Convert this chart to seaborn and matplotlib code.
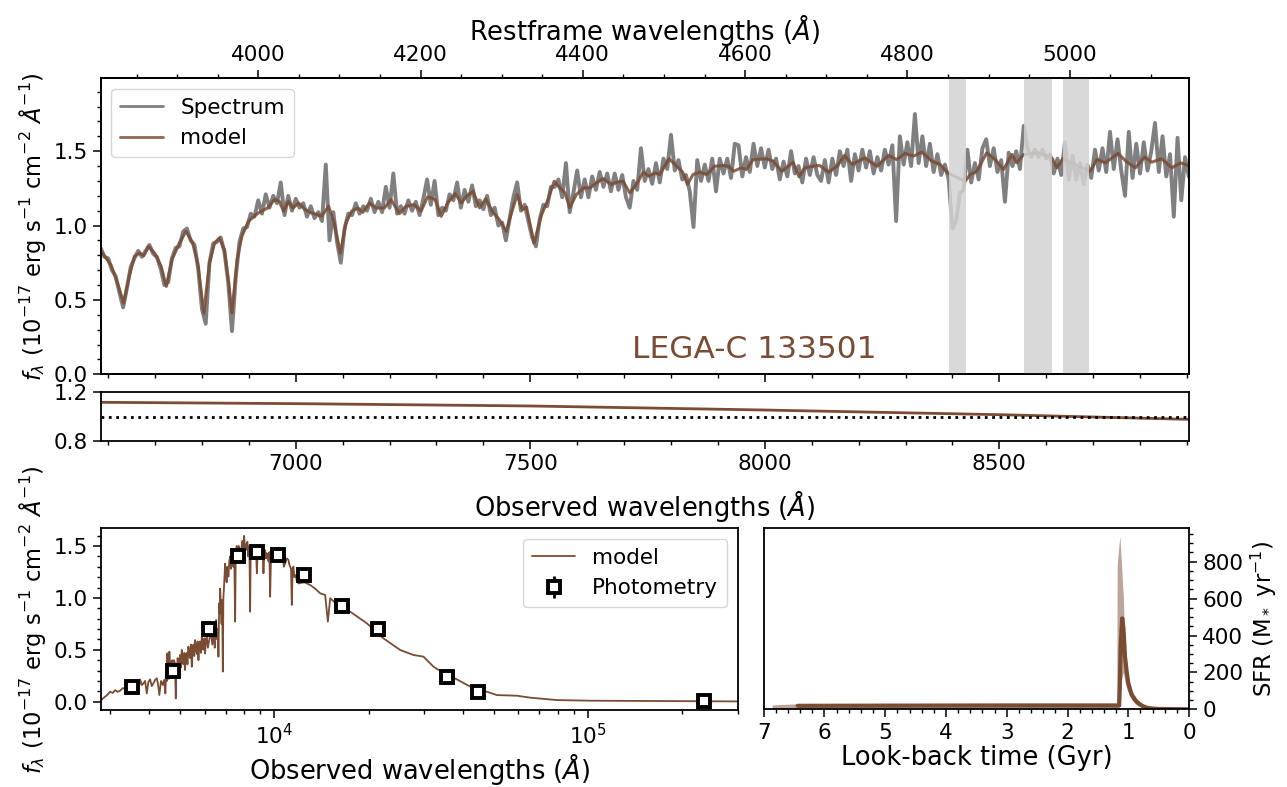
import numpy as np
import matplotlib
matplotlib.use("Agg")
import matplotlib.pyplot as plt
from matplotlib.ticker import MultipleLocator
import seaborn as sns

# ----------------------------------------------------------------------
# Data
# ----------------------------------------------------------------------
REDSHIFT = 0.730
OBJ_NAME = "LEGA-C 133501"

# observed spectrum, sampled on an 8 A pixel grid starting at 6584 A
SPEC_START, SPEC_STEP = 6584, 8
spec_flux = [
    0.85, 0.79, 0.78, 0.70, 0.66, 0.55, 0.45, 0.58, 0.72, 0.78,
    0.83, 0.79, 0.83, 0.87, 0.81, 0.79, 0.71, 0.60, 0.62, 0.78,
    0.85, 0.86, 0.96, 0.98, 0.90, 0.87, 0.71, 0.44, 0.34, 0.75,
    0.88, 0.89, 0.92, 0.82, 0.62, 0.29, 0.65, 0.89, 0.98, 0.99,
    1.08, 1.06, 1.17, 1.08, 1.21, 1.12, 1.20, 1.15, 1.29, 1.07,
    1.20, 1.10, 1.18, 1.12, 1.15, 1.06, 1.13, 1.05, 1.09, 1.03,
    1.41, 0.90, 1.09, 0.89, 0.75, 0.98, 1.08, 1.07, 1.15, 1.08,
    1.13, 1.10, 1.18, 1.09, 1.16, 1.09, 1.26, 1.12, 1.35, 1.08,
    1.13, 1.08, 1.17, 1.10, 1.16, 1.07, 1.18, 1.31, 1.14, 1.30,
    1.07, 1.12, 1.10, 1.21, 1.17, 1.29, 1.12, 1.24, 1.16, 1.27,
    1.13, 1.17, 1.11, 1.20, 1.07, 1.12, 1.00, 1.02, 0.90, 1.05,
    1.19, 1.29, 1.10, 1.14, 1.03, 0.92, 0.86, 1.04, 1.14, 1.13,
    1.26, 1.26, 1.31, 1.19, 1.42, 1.09, 1.22, 1.37, 1.19, 1.31,
    1.19, 1.33, 1.24, 1.36, 1.26, 1.35, 1.23, 1.35, 1.24, 1.34,
    1.19, 1.12, 1.30, 1.24, 1.52, 1.30, 1.38, 1.28, 1.42, 1.29,
    1.45, 1.38, 1.61, 1.37, 1.44, 1.31, 1.34, 1.23, 0.99, 1.44,
    1.30, 1.41, 1.30, 1.45, 1.23, 1.45, 1.35, 1.45, 1.32, 1.55,
    1.54, 1.33, 1.46, 1.36, 1.55, 1.40, 1.52, 1.39, 1.51, 1.38,
    1.45, 1.31, 1.43, 1.33, 1.50, 1.35, 1.40, 1.29, 1.45, 1.34,
    1.46, 1.34, 1.30, 1.44, 1.29, 1.45, 1.34, 1.50, 1.40, 1.51,
    1.30, 1.48, 1.37, 1.51, 1.39, 1.50, 1.35, 1.46, 1.37, 1.51,
    1.41, 1.54, 1.03, 1.60, 1.41, 1.56, 1.40, 1.75, 1.42, 1.60,
    1.40, 1.55, 1.36, 1.48, 1.34, 1.41, 1.31, 0.98, 1.03, 1.22,
    1.24, 1.51, 1.29, 1.42, 1.31, 1.52, 1.58, 1.40, 1.52, 1.36,
    1.44, 1.16, 1.49, 1.40, 1.50, 1.38, 1.67, 1.52, 1.46, 1.51,
    1.46, 1.51, 1.45, 1.48, 1.35, 1.45, 1.34, 1.56, 1.31, 1.47,
    1.31, 1.42, 1.28, 1.41, 1.32, 1.51, 1.37, 1.52, 1.36, 1.63,
    1.38, 1.58, 1.37, 1.20, 1.63, 1.32, 1.55, 1.35, 1.56, 1.37,
    1.50, 1.69, 1.36, 1.60, 1.33, 1.48, 1.06, 1.59, 1.17, 1.46,
    1.33,
]

# best-fit model of the spectrum
model_wl = [
    6585, 6606, 6620, 6633, 6645, 6656, 6667, 6676, 6686, 6699, 6713, 6724,
    6736, 6752, 6766, 6780, 6791, 6804, 6816, 6827, 6837, 6848, 6857, 6864,
    6875, 6885, 6899, 6915, 6926, 6940, 6955, 6965, 6974, 6984, 6994, 7006,
    7018, 7033, 7047, 7055, 7070, 7082, 7095, 7107, 7119, 7132, 7143, 7157,
    7171, 7189, 7203, 7221, 7235, 7252, 7267, 7281, 7297, 7310, 7324, 7340,
    7353, 7364, 7378, 7392, 7405, 7421, 7434, 7449, 7460, 7472, 7483, 7492,
    7508, 7524, 7538, 7551, 7563, 7574, 7584, 7598, 7614, 7627, 7641, 7655,
    7673, 7684, 7698, 7712, 7726, 7741, 7753, 7766, 7776, 7796, 7812, 7825,
    7835, 7847, 7861, 7876, 7893, 7911, 7922, 7933, 7950, 7961, 7975, 8004,
    8018, 8036, 8046, 8060, 8073, 8085, 8103, 8117, 8136, 8154, 8170, 8186,
    8213, 8239, 8264, 8281, 8299, 8317, 8335, 8356, 8374, 8390, 8427, 8438,
    8452, 8473, 8491, 8509, 8527, 8537, 8552, 8584, 8612, 8623, 8635, 8662,
    8694, 8708, 8726, 8753, 8770, 8790, 8810, 8825, 8846, 8868, 8886, 8903,
]
model_flux = [
    0.826, 0.736, 0.613, 0.478, 0.658, 0.793, 0.815, 0.797, 0.860, 0.815, 0.726, 0.591,
    0.771, 0.883, 0.961, 0.883, 0.748, 0.411, 0.748, 0.883, 0.916, 0.838, 0.613, 0.411,
    0.771, 0.927, 1.028, 1.073, 1.096, 1.118, 1.175, 1.163, 1.096, 1.163, 1.118, 1.152,
    1.112, 1.085, 1.073, 1.062, 1.130, 1.017, 0.815, 1.017, 1.096, 1.118, 1.089, 1.152,
    1.118, 1.118, 1.175, 1.080, 1.130, 1.141, 1.096, 1.193, 1.175, 1.062, 1.152, 1.215,
    1.152, 1.197, 1.231, 1.119, 1.180, 1.085, 1.040, 0.961, 1.085, 1.208, 1.107, 1.125,
    0.882, 1.073, 1.175, 1.298, 1.253, 1.220, 1.119, 1.208, 1.253, 1.253, 1.287, 1.316,
    1.276, 1.291, 1.298, 1.220, 1.276, 1.359, 1.332, 1.354, 1.343, 1.449, 1.399, 1.359,
    1.276, 1.343, 1.359, 1.343, 1.399, 1.404, 1.399, 1.365, 1.388, 1.377, 1.444, 1.449,
    1.433, 1.365, 1.388, 1.426, 1.328, 1.388, 1.399, 1.404, 1.359, 1.399, 1.471, 1.411,
    1.455, 1.399, 1.471, 1.444, 1.485, 1.467, 1.494, 1.433, 1.411, 1.354, 1.298, 1.343,
    1.365, 1.489, 1.444, 1.377, 1.478, 1.422, 1.478, 1.489, 1.455, 1.388, 1.449, 1.411,
    1.365, 1.444, 1.422, 1.485, 1.433, 1.388, 1.460, 1.426, 1.449, 1.388, 1.422, 1.404,
]

# masked emission-line windows (observed A): H-beta, [OIII]4959, [OIII]5007
mask_lo = [8393, 8553, 8635]
mask_hi = [8428, 8613, 8692]

# multiplicative calibration polynomial (ratio panel)
ratio_wl = [6585, 7000, 7500, 8000, 8500, 8903]
ratio_val = [1.116, 1.105, 1.086, 1.053, 1.015, 0.977]

# broad-band SED model
sed_wl = [
    2809, 2892, 2950, 3001, 3060, 3113, 3170, 3229, 3290, 3350, 3410, 3475,
    3560, 3650, 3700, 3740, 3790, 3832, 3880, 3928, 3975, 4025, 4075, 4123,
    4175, 4227, 4265, 4308, 4360, 4417, 4460, 4502, 4520, 4540, 4555, 4568,
    4585, 4600, 4618, 4636, 4660, 4683, 4705, 4730, 4752, 4775, 4798, 4820,
    4840, 4859, 4880, 4900, 4925, 4953, 4980, 5010, 5045, 5078, 5110, 5140,
    5170, 5203, 5230, 5260, 5295, 5330, 5365, 5400, 5430, 5465, 5500, 5530,
    5565, 5601, 5635, 5670, 5705, 5738, 5775, 5810, 5845, 5882, 5915, 5950,
    5990, 6026, 6060, 6100, 6150, 6200, 6250, 6300, 6350, 6406, 6440, 6470,
    6500, 6534, 6560, 6590, 6620, 6645, 6670, 6690, 6710, 6729, 6760, 6800,
    6830, 6862, 6890, 6920, 6950, 6980, 7020, 7060, 7100, 7150, 7195, 7240,
    7290, 7332, 7375, 7420, 7465, 7511, 7540, 7570, 7600, 7638, 7700, 7760,
    7820, 7888, 7930, 7960, 7990, 8024, 8070, 8120, 8170, 8220, 8260, 8300,
    8340, 8384, 8420, 8460, 8505, 8551, 8615, 8680, 8745, 8810, 8865, 8920,
    8975, 9027, 9085, 9140, 9190, 9246, 9300, 9360, 9420, 9478, 9540, 9600,
    9655, 9710, 9770, 9830, 9890, 9949, 10070, 10200, 10320, 10450, 10550, 10650,
    10740, 10840, 10970, 11106, 11180, 11250, 11320, 11386, 11450, 11522, 11600, 11700,
    11830, 11955, 12500, 13026, 13500, 14020, 14540, 14830, 15085, 16000, 17470, 19750,
    22300, 25220, 27800, 29920, 32200, 35530, 38230, 43190, 47640, 51280, 59380, 65490,
    79650, 101700, 300800,
]
sed_flux = [
    0.016, 0.048, 0.070, 0.096, 0.085, 0.112, 0.095, 0.106, 0.130, 0.128, 0.090, 0.096,
    0.150, 0.145, 0.110, 0.215, 0.160, 0.177, 0.200, 0.080, 0.190, 0.215, 0.150, 0.177,
    0.210, 0.225, 0.170, 0.064, 0.200, 0.161, 0.210, 0.080, 0.250, 0.300, 0.200, 0.466,
    0.300, 0.330, 0.220, 0.482, 0.300, 0.273, 0.380, 0.400, 0.280, 0.337, 0.400, 0.380,
    0.250, 0.032, 0.330, 0.300, 0.420, 0.369, 0.280, 0.450, 0.330, 0.498, 0.400, 0.360,
    0.470, 0.305, 0.450, 0.470, 0.360, 0.530, 0.440, 0.420, 0.550, 0.337, 0.500, 0.550,
    0.440, 0.594, 0.500, 0.460, 0.580, 0.401, 0.550, 0.580, 0.470, 0.626, 0.550, 0.500,
    0.610, 0.466, 0.600, 0.620, 0.520, 0.580, 0.640, 0.660, 0.550, 0.626, 0.580, 0.520,
    0.700, 0.787, 0.620, 0.600, 0.700, 0.434, 0.800, 0.950, 0.850, 1.090, 0.950, 0.750,
    0.980, 0.290, 1.000, 1.100, 1.220, 1.330, 1.200, 1.150, 1.300, 1.205, 1.350, 1.400,
    1.280, 1.365, 1.420, 1.300, 1.400, 0.771, 1.350, 1.420, 1.500, 1.365, 1.500, 1.470,
    1.400, 1.510, 1.550, 1.450, 1.520, 1.597, 1.480, 1.460, 1.520, 1.540, 1.400, 1.450,
    1.500, 0.867, 1.450, 1.500, 1.420, 1.494, 1.450, 1.420, 1.500, 1.237, 1.460, 1.500,
    1.400, 1.478, 1.380, 1.400, 1.460, 1.237, 1.420, 1.460, 1.380, 1.430, 1.400, 1.350,
    1.440, 1.012, 1.380, 1.420, 1.360, 1.397, 1.430, 1.460, 1.380, 1.413, 1.400, 1.380,
    1.300, 1.333, 1.380, 1.365, 1.320, 1.300, 1.280, 0.932, 1.280, 1.301, 1.200, 1.220,
    1.160, 1.140, 1.150, 1.124, 1.090, 1.044, 1.028, 0.771, 0.996, 0.930, 0.867, 0.755,
    0.610, 0.498, 0.450, 0.434, 0.337, 0.257, 0.215, 0.128, 0.096, 0.064, 0.058, 0.039,
    0.016, 0.010, 0.003,
]

# photometry
phot_wl = [3525, 4757, 6197, 7676, 8808, 10273, 12463, 16392, 21410, 35520, 44770, 233600]
phot_flux = [0.145, 0.296, 0.697, 1.407, 1.446, 1.413, 1.217, 0.919, 0.697, 0.241, 0.090, 0.006]
phot_err = [0.010, 0.015, 0.020, 0.020, 0.020, 0.020, 0.020, 0.020, 0.020, 0.010, 0.010, 0.010]

# star formation history (look-back time in Gyr, SFR in Msun/yr)
sfh_t = [6.44, 5.0, 3.0, 1.60, 1.15, 1.14, 1.125, 1.10, 1.08, 1.054, 1.025, 1.0,
         0.943, 0.861, 0.80, 0.753, 0.686, 0.60, 0.50, 0.30, 0.0]
sfh_med = [19, 20, 21, 21, 21, 120, 350, 493, 440, 285, 200, 141,
           77, 41, 25, 16, 8, 4, 2, 1, 0]
band_t = [6.86, 6.45, 5.0, 3.0, 1.20, 1.19, 1.183, 1.16, 1.137, 1.12, 1.081, 1.065,
          1.026, 0.943, 0.856, 0.807, 0.744, 0.64, 0.50, 0.30, 0.0]
band_hi = [24, 30, 30, 30, 30, 30, 780, 870, 939, 830, 610, 430,
           213, 105, 50, 41, 22, 10, 4, 2, 0]
band_lo = [2, 6, 8, 8, 8, 8, 0, 0, 40, 150, 200, 170,
           110, 50, 20, 14, 6, 2, 1, 0, 0]

# ----------------------------------------------------------------------
# Style
# ----------------------------------------------------------------------
BROWN = "#7a4c34"
GREY = "#808080"
TICK_FS = 15.5
XLAB_FS = 18.5
YLAB_FS = 16.3

sns.set_style("ticks", {"axes.edgecolor": "black", "xtick.color": "black",
                        "ytick.color": "black", "text.color": "black",
                        "axes.labelcolor": "black"})
plt.rcParams["font.family"] = ["DejaVu Sans"]
plt.rcParams.update({
    "axes.linewidth": 1.3,
    "xtick.direction": "out", "ytick.direction": "out",
})

FLUX_LABEL = r"$f_\lambda$ ($10^{-17}$ erg s$^{-1}$ cm$^{-2}$ $\AA^{-1}$)"


def style_ticks(ax):
    ax.tick_params(which="major", length=6, width=1.1, labelsize=TICK_FS,
                   color="black", labelcolor="black")
    ax.tick_params(which="minor", length=3, width=1.0, color="black")


fig = plt.figure(figsize=(12.87, 7.87), dpi=100)
ax_spec = fig.add_axes([0.0782, 0.5244, 0.8455, 0.3761])
ax_ratio = fig.add_axes([0.0782, 0.4396, 0.8455, 0.0623])
ax_sed = fig.add_axes([0.0782, 0.0978, 0.4950, 0.2309])
ax_sfh = fig.add_axes([0.5934, 0.0987, 0.3305, 0.2300])

# ----------------------------------------------------------------------
# Spectrum panel
# ----------------------------------------------------------------------
spec_wl = SPEC_START + SPEC_STEP * np.arange(len(spec_flux))
xlo, xhi = 6584, 8904

sns.lineplot(x=spec_wl, y=spec_flux, ax=ax_spec, color=GREY, lw=2.8,
             label="Spectrum")
sns.lineplot(x=model_wl, y=model_flux, ax=ax_spec, color=BROWN, lw=2.2,
             alpha=0.85, label="model")
for lo, hi in zip(mask_lo, mask_hi):
    ax_spec.axvspan(lo, hi, color="#d3d3d3", alpha=0.85, lw=0, zorder=4)

ax_spec.set_xlim(xlo, xhi)
ax_spec.set_ylim(0, 1.99)
ax_spec.yaxis.set_major_locator(MultipleLocator(0.5))
ax_spec.yaxis.set_minor_locator(MultipleLocator(0.1))
ax_spec.xaxis.set_major_locator(MultipleLocator(500))
ax_spec.xaxis.set_minor_locator(MultipleLocator(100))
style_ticks(ax_spec)
ax_spec.tick_params(labelbottom=False)
ax_spec.set_ylabel(FLUX_LABEL, fontsize=YLAB_FS)
leg = ax_spec.legend(loc="upper left", fontsize=TICK_FS, frameon=True)
for line in leg.get_lines():
    line.set_linewidth(2.0)
ax_spec.text(0.601, 0.054, OBJ_NAME, transform=ax_spec.transAxes,
             color=BROWN, fontsize=22.5, ha="center", va="baseline")

# restframe axis on top
ax_rest = ax_spec.twiny()
ax_rest.set_xlim(xlo / (1 + REDSHIFT), xhi / (1 + REDSHIFT))
ax_rest.xaxis.set_major_locator(MultipleLocator(200))
ax_rest.xaxis.set_minor_locator(MultipleLocator(50))
style_ticks(ax_rest)
ax_rest.set_xlabel(r"Restframe wavelengths ($\AA$)", fontsize=XLAB_FS)

# ----------------------------------------------------------------------
# Ratio panel
# ----------------------------------------------------------------------
sns.lineplot(x=ratio_wl, y=ratio_val, ax=ax_ratio, color=BROWN, lw=2.0)
ax_ratio.axhline(1.0, color="black", ls=":", lw=2.0)
ax_ratio.set_xlim(xlo, xhi)
ax_ratio.set_ylim(0.8, 1.2)
ax_ratio.set_yticks([0.8, 1.2])
ax_ratio.xaxis.set_major_locator(MultipleLocator(500))
ax_ratio.xaxis.set_minor_locator(MultipleLocator(100))
style_ticks(ax_ratio)
ax_ratio.set_xlabel(r"Observed wavelengths ($\AA$)", fontsize=XLAB_FS,
                    labelpad=10)

# ----------------------------------------------------------------------
# SED panel
# ----------------------------------------------------------------------
sns.lineplot(x=sed_wl, y=sed_flux, ax=ax_sed, color=BROWN, lw=1.3,
             label="model")
ax_sed.errorbar(phot_wl, phot_flux, yerr=phot_err, fmt="s", ms=8.5,
                mfc="white", mec="black", mew=2.8, ecolor="black",
                elinewidth=2, capsize=0, label="Photometry", zorder=5)
ax_sed.set_xscale("log")
ax_sed.set_xlim(2800, 300000)
ax_sed.set_ylim(-0.08, 1.67)
ax_sed.yaxis.set_major_locator(MultipleLocator(0.5))
ax_sed.yaxis.set_minor_locator(MultipleLocator(0.1))
style_ticks(ax_sed)
ax_sed.set_xlabel(r"Observed wavelengths ($\AA$)", fontsize=XLAB_FS,
                  labelpad=2)
ax_sed.set_ylabel(FLUX_LABEL, fontsize=YLAB_FS)
ax_sed.legend(loc="upper right", fontsize=TICK_FS, frameon=True)

# ----------------------------------------------------------------------
# SFH panel
# ----------------------------------------------------------------------
ax_sfh.fill_between(band_t, band_lo, band_hi, color=BROWN, alpha=0.5, lw=0)
sns.lineplot(x=sfh_t, y=sfh_med, ax=ax_sfh, color=BROWN, lw=3.0)
ax_sfh.set_xlim(7, 0)
ax_sfh.set_ylim(0, 981)
ax_sfh.xaxis.set_major_locator(MultipleLocator(1))
ax_sfh.xaxis.set_minor_locator(MultipleLocator(0.2))
ax_sfh.yaxis.set_major_locator(MultipleLocator(200))
ax_sfh.yaxis.set_minor_locator(MultipleLocator(50))
ax_sfh.yaxis.tick_right()
ax_sfh.yaxis.set_label_position("right")
style_ticks(ax_sfh)
ax_sfh.set_xlabel("Look-back time (Gyr)", fontsize=XLAB_FS, labelpad=2)
ax_sfh.set_ylabel(r"SFR (M$_*$ yr$^{-1}$)", fontsize=YLAB_FS)

fig.savefig("out.png", dpi=100)
